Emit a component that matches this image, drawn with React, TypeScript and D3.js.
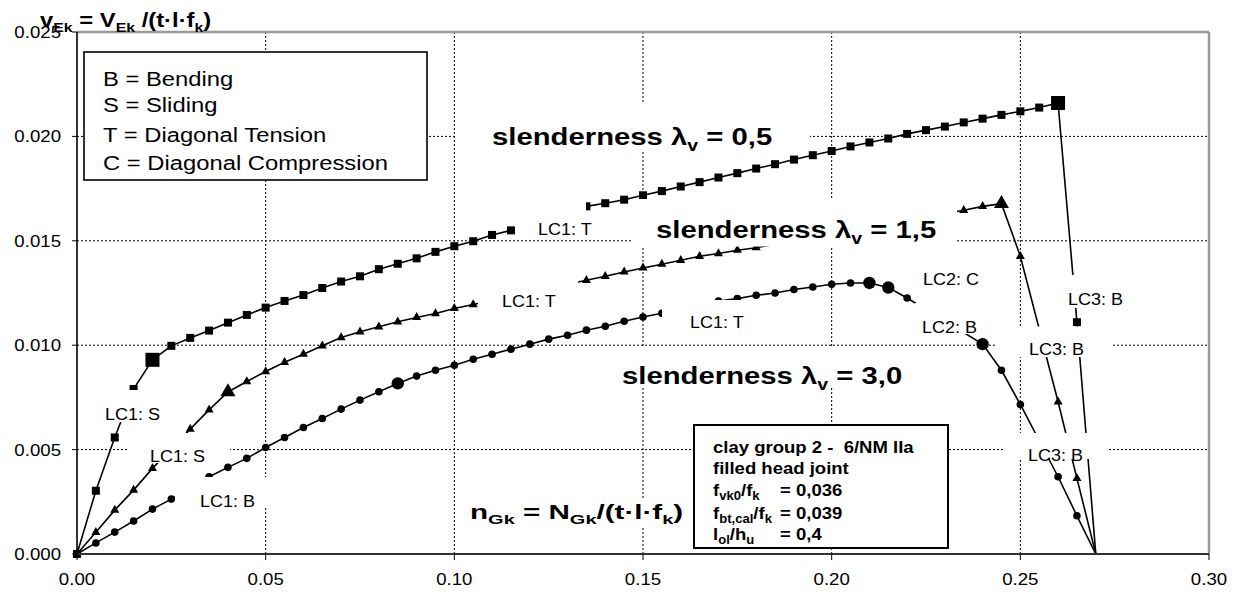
import React from "react";
import * as d3 from "d3";

// ---------- data ----------
const xTicks = [0, 0.05, 0.1, 0.15, 0.2, 0.25, 0.3];
const yTicks = [0, 0.005, 0.01, 0.015, 0.02, 0.025];
const xGrid = [0.05, 0.1, 0.15, 0.2, 0.25];
const yGrid = [0.005, 0.01, 0.015, 0.02];

// slenderness 0,5 (squares)
const sqX = [0, 0.005, 0.01, 0.015, 0.02, 0.025, 0.03, 0.035, 0.04, 0.045, 0.05, 0.055, 0.06, 0.065, 0.07, 0.075, 0.08, 0.085, 0.09, 0.095, 0.1, 0.105, 0.11, 0.115, 0.135, 0.14, 0.145, 0.15, 0.155, 0.16, 0.165, 0.17, 0.175, 0.18, 0.185, 0.19, 0.195, 0.2, 0.205, 0.21, 0.215, 0.22, 0.225, 0.23, 0.235, 0.24, 0.245, 0.25, 0.255, 0.26, 0.265, 0.27];
const sqY = [0, 0.00303, 0.00558, 0.0079, 0.0093, 0.00997, 0.01035, 0.0107, 0.01108, 0.01145, 0.0118, 0.01212, 0.0124, 0.01274, 0.01305, 0.0133, 0.01364, 0.0139, 0.01416, 0.01447, 0.01474, 0.01498, 0.01528, 0.0155, 0.01665, 0.0168, 0.01697, 0.01718, 0.01738, 0.0176, 0.01781, 0.01803, 0.01824, 0.01846, 0.01867, 0.01889, 0.0191, 0.0193, 0.01952, 0.01971, 0.0199, 0.02012, 0.0203, 0.02047, 0.02067, 0.02085, 0.02103, 0.0212, 0.02138, 0.0216, 0.0111, 0];
const sqBig = [0.02, 0.26];

// slenderness 1,5 (triangles)
const trX = [0, 0.005, 0.01, 0.015, 0.02, 0.03, 0.035, 0.04, 0.045, 0.05, 0.055, 0.06, 0.065, 0.07, 0.075, 0.08, 0.085, 0.09, 0.095, 0.1, 0.105, 0.135, 0.14, 0.145, 0.15, 0.155, 0.16, 0.165, 0.17, 0.175, 0.18, 0.235, 0.24, 0.245, 0.25, 0.26, 0.265, 0.27];
const trY = [0, 0.00104, 0.0021, 0.00306, 0.0041, 0.00598, 0.0069, 0.00776, 0.00826, 0.00874, 0.00918, 0.00957, 0.00997, 0.01037, 0.01064, 0.01088, 0.01112, 0.01133, 0.01152, 0.01176, 0.01195, 0.01311, 0.0133, 0.01351, 0.0137, 0.01388, 0.01407, 0.01426, 0.01439, 0.01455, 0.01467, 0.01646, 0.01665, 0.01678, 0.01426, 0.00729, 0.00362, 0];
const trBig = [0.04, 0.245];

// slenderness 3,0 (circles)
const ciX = [0, 0.005, 0.01, 0.015, 0.02, 0.025, 0.035, 0.04, 0.045, 0.05, 0.055, 0.06, 0.065, 0.07, 0.075, 0.08, 0.085, 0.09, 0.095, 0.1, 0.105, 0.11, 0.115, 0.12, 0.125, 0.13, 0.135, 0.14, 0.145, 0.15, 0.155, 0.17, 0.175, 0.18, 0.185, 0.19, 0.195, 0.2, 0.205, 0.21, 0.215, 0.22, 0.24, 0.245, 0.25, 0.26, 0.265, 0.27];
const ciY = [0, 0.00053, 0.00105, 0.00158, 0.00215, 0.00263, 0.0037, 0.00415, 0.00458, 0.0051, 0.00558, 0.00606, 0.00649, 0.00694, 0.00737, 0.00777, 0.00817, 0.00852, 0.0088, 0.00904, 0.00933, 0.00957, 0.00981, 0.01005, 0.01029, 0.01048, 0.01072, 0.01091, 0.01115, 0.01135, 0.01153, 0.01212, 0.01223, 0.01239, 0.0125, 0.01267, 0.01279, 0.01292, 0.01298, 0.01298, 0.01276, 0.01226, 0.01005, 0.0088, 0.00716, 0.0037, 0.00183, 0];
const ciBig = [0.085, 0.21, 0.215, 0.24];

const legendLines = ["B = Bending", "S = Sliding", "T = Diagonal Tension", "C = Diagonal Compression"];
const lcLabels = ["LC1: S", "LC1: S", "LC1: B", "LC1: T", "LC1: T", "LC1: T", "LC2: C", "LC2: B", "LC3: B", "LC3: B", "LC3: B"];
const slenderValues = ["0,5", "1,5", "3,0"];
const infoValues = ["0,036", "0,039", "0,4"];

// ---------- drawing ----------
const FONT = "'Liberation Sans', Arial, Helvetica, sans-serif";
type Part = [string, boolean];

function Rich(props: { x: number; y: number; parts: Part[]; size: number; sub: number; shift: number; sx: number; weight?: string }) {
  const { x, y, parts, size, sub, shift, sx, weight } = props;
  let cur = 0;
  return (
    <text transform={`translate(${x},${y}) scale(${sx},1)`} fontFamily={FONT} fontSize={size} fontWeight={weight || "normal"} fill="#000" style={{ whiteSpace: "pre" }}>
      {parts.map(([t, isSub], i) => {
        const target = isSub ? shift : 0;
        const dy = target - cur;
        cur = target;
        return (
          <tspan key={i} dy={dy} fontSize={isSub ? sub : size}>
            {t}
          </tspan>
        );
      })}
    </text>
  );
}

function Plain(props: { x: number; y: number; text: string; size: number; sx: number; weight?: string; anchor?: string }) {
  const { x, y, text, size, sx, weight, anchor } = props;
  return (
    <text transform={`translate(${x},${y}) scale(${sx},1)`} fontFamily={FONT} fontSize={size} fontWeight={weight || "normal"} textAnchor={anchor || "start"} fill="#000" style={{ whiteSpace: "pre" }}>
      {text}
    </text>
  );
}

export default function App() {
  const W = 1233;
  const H = 592;
  const x = d3.scaleLinear().domain([0, 0.3]).range([77, 1209]);
  const y = d3.scaleLinear().domain([0, 0.025]).range([554, 32]);
  const line = d3
    .line<[number, number]>()
    .x((d) => x(d[0]))
    .y((d) => y(d[1]));

  const series = [
    { xs: sqX, ys: sqY, big: sqBig, shape: "square" },
    { xs: trX, ys: trY, big: trBig, shape: "triangle" },
    { xs: ciX, ys: ciY, big: ciBig, shape: "circle" },
  ];

  const marker = (shape: string, cx: number, cy: number, big: boolean, key: string) => {
    if (shape === "square") {
      const s = big ? 14 : 8;
      return <rect key={key} x={cx - s / 2} y={cy - s / 2} width={s} height={s} fill="#000" />;
    }
    if (shape === "triangle") {
      const w = big ? 15 : 9;
      const h = big ? 13 : 8;
      return <path key={key} d={`M${cx},${cy - (2 * h) / 3}L${cx + w / 2},${cy + h / 3}L${cx - w / 2},${cy + h / 3}Z`} fill="#000" />;
    }
    return <circle key={key} cx={cx} cy={cy} r={big ? 6.2 : 3.8} fill="#000" />;
  };

  // annotation boxes (white fill) with label text positions
  const lcBoxes = [
    { x0: 100, y0: 390, x1: 165, y1: 422, tx: 105, ty: 420 },
    { x0: 127, y0: 433, x1: 230, y1: 463, tx: 150, ty: 462 },
    { x0: 175, y0: 477, x1: 270, y1: 508, tx: 200, ty: 507 },
    { x0: 515, y0: 200, x1: 586, y1: 238, tx: 538, ty: 235 },
    { x0: 478, y0: 279, x1: 578, y1: 312, tx: 502, ty: 307 },
    { x0: 662, y0: 300, x1: 750, y1: 335, tx: 690, ty: 328 },
    { x0: 915, y0: 262, x1: 985, y1: 292, tx: 923, ty: 285 },
    { x0: 915, y0: 303, x1: 985, y1: 334, tx: 922, ty: 333 },
    { x0: 1060, y0: 275, x1: 1130, y1: 308, tx: 1068, ty: 305 },
    { x0: 997, y0: 326.5, x1: 1113, y1: 357, tx: 1029, ty: 355 },
    { x0: 1003, y0: 433, x1: 1107, y1: 459, tx: 1028, ty: 461 },
  ];
  const slBoxes = [
    { x0: 455, y0: 103, x1: 810, y1: 151, tx: 492, ty: 145 },
    { x0: 633, y0: 199, x1: 957, y1: 246.5, tx: 656, ty: 238 },
    { x0: 612, y0: 347, x1: 915, y1: 386, tx: 622, ty: 384 },
  ];

  const fmtY = d3.format(".3f");
  const fmtX = d3.format(".2f");

  return (
    <svg width={W} height={H} style={{ position: "absolute", left: 0, top: 0, background: "#fff" }}>
      <rect x={0} y={0} width={W} height={H} fill="#fff" />
      {/* grid */}
      {xGrid.map((v) => (
        <line key={"gx" + v} x1={x(v)} x2={x(v)} y1={y(0.025)} y2={y(0)} stroke="#000" strokeWidth={1} strokeDasharray="2,2" />
      ))}
      {yGrid.map((v) => (
        <line key={"gy" + v} x1={x(0)} x2={x(0.3)} y1={y(v)} y2={y(v)} stroke="#000" strokeWidth={1} strokeDasharray="2,2" />
      ))}

      {/* series */}
      {series.map((s, si) => {
        const pts: [number, number][] = s.xs.map((v, i) => [v, s.ys[i]]);
        return (
          <g key={"s" + si}>
            <path d={line(pts) || ""} fill="none" stroke="#000" strokeWidth={1.6} />
            {pts.map((p, i) =>
              i === pts.length - 1 ? null : marker(s.shape, x(p[0]), y(p[1]), s.big.some((b) => Math.abs(b - p[0]) < 1e-9), `m${si}-${i}`)
            )}
          </g>
        );
      })}

      {/* white label boxes */}
      {lcBoxes.map((b, i) => (
        <rect key={"lb" + i} x={b.x0} y={b.y0} width={b.x1 - b.x0} height={b.y1 - b.y0} fill="#fff" />
      ))}
      {slBoxes.map((b, i) => (
        <rect key={"sb" + i} x={b.x0} y={b.y0} width={b.x1 - b.x0} height={b.y1 - b.y0} fill="#fff" />
      ))}
      <rect x={465} y={498} width={228} height={30} fill="#fff" />

      {/* LC labels */}
      {lcBoxes.map((b, i) => (
        <Plain key={"lt" + i} x={b.tx} y={b.ty} text={lcLabels[i]} size={17} sx={1.06} />
      ))}
      {/* slenderness labels */}
      {slBoxes.map((b, i) => (
        <Rich key={"st" + i} x={b.tx} y={b.ty} parts={[["slenderness λ", false], ["v", true], [" = " + slenderValues[i], false]]} size={24} sub={16} shift={6} sx={1.22} weight="bold" />
      ))}

      {/* axes and frame */}
      <line x1={x(0)} x2={x(0.3)} y1={y(0.025)} y2={y(0.025)} stroke="#999" strokeWidth={2.5} />
      <line x1={x(0.3)} x2={x(0.3)} y1={y(0.025)} y2={y(0)} stroke="#999" strokeWidth={2.5} />
      <line x1={x(0)} x2={x(0.3)} y1={y(0)} y2={y(0)} stroke="#333" strokeWidth={2} />
      <line x1={x(0)} x2={x(0)} y1={y(0.025)} y2={y(0)} stroke="#000" strokeWidth={1.6} />
      {yTicks.map((v) => (
        <g key={"yt" + v}>
          <line x1={x(0) - 5} x2={x(0)} y1={y(v)} y2={y(v)} stroke="#000" strokeWidth={1} />
          <Plain x={61} y={y(v) + 6} text={fmtY(v)} size={16.5} sx={1.13} anchor="end" />
        </g>
      ))}
      {xTicks.map((v) => (
        <g key={"xt" + v}>
          <line x1={x(v)} x2={x(v)} y1={y(0)} y2={y(0) + 6} stroke="#000" strokeWidth={1} />
          <Plain x={x(v)} y={585} text={fmtX(v)} size={16.5} sx={1.13} anchor="middle" />
        </g>
      ))}

      {/* legend box */}
      <rect x={84} y={52} width={343} height={128} fill="#fff" stroke="#000" strokeWidth={1.6} />
      {legendLines.map((t, i) => (
        <Plain key={"lg" + i} x={103} y={[86, 112, 141.5, 170][i]} text={t} size={20} sx={1.19} />
      ))}

      {/* info box */}
      <rect x={694} y={425} width={254} height={123} fill="#fff" stroke="#000" strokeWidth={2} />
      <Plain x={713} y={453} text={"clay group 2 -  6/NM IIa"} size={17} sx={1.09} weight="bold" />
      <Plain x={713} y={474} text={"filled head joint"} size={17} sx={1.09} weight="bold" />
      <Rich x={713} y={496} parts={[["f", false], ["vk0", true], ["/f", false], ["k", true]]} size={17} sub={12} shift={4} sx={1.09} weight="bold" />
      <Rich x={713} y={518.5} parts={[["f", false], ["bt,cal", true], ["/f", false], ["k", true]]} size={17} sub={12} shift={4} sx={1.09} weight="bold" />
      <Rich x={713} y={540} parts={[["l", false], ["ol", true], ["/h", false], ["u", true]]} size={17} sub={12} shift={4} sx={1.09} weight="bold" />
      {infoValues.map((v, i) => (
        <Plain key={"iv" + i} x={780} y={[496, 518.5, 540][i]} text={"= " + v} size={17} sx={1.09} weight="bold" />
      ))}

      {/* axis titles */}
      <Rich x={40} y={27} parts={[["v", false], ["Ek", true], [" = V", false], ["Ek", true], [" /(t·l·f", false], ["k", true], [")", false]]} size={19.5} sub={13} shift={5} sx={1.22} weight="bold" />
      <Rich x={470} y={519} parts={[["n", false], ["Gk", true], [" = N", false], ["Gk", true], ["/(t·l·f", false], ["k", true], [")", false]]} size={20} sub={13.5} shift={5} sx={1.48} weight="bold" />
    </svg>
  );
}
